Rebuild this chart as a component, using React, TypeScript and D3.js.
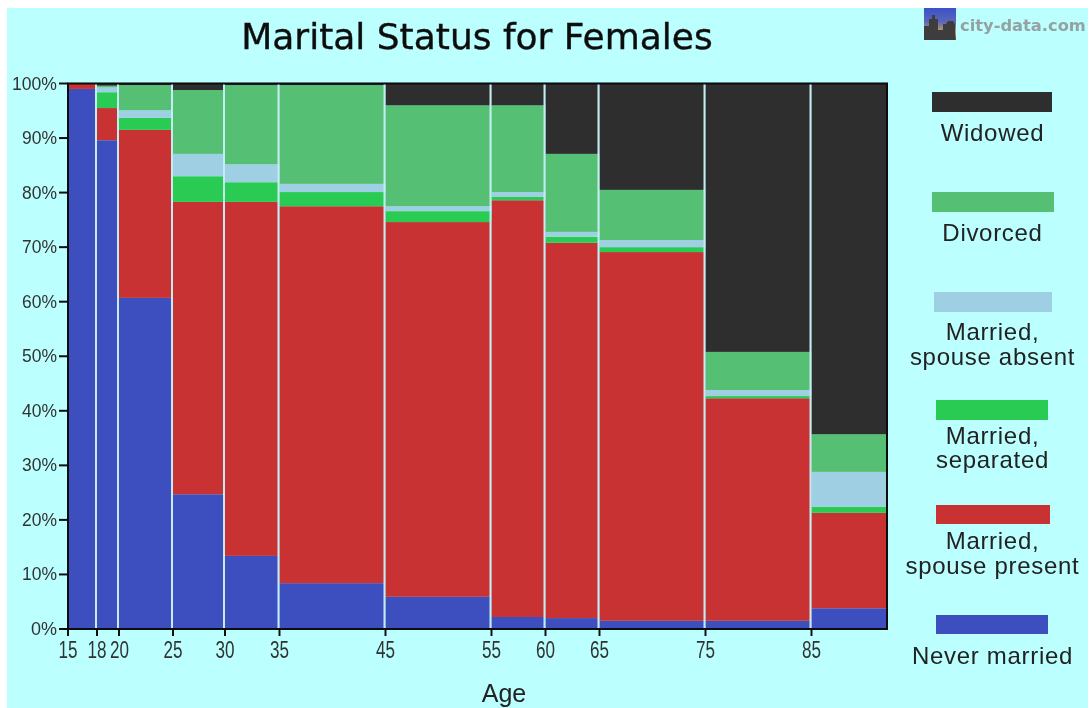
import React from "react";
import * as d3 from "d3";

const ageStarts = [15, 18, 20, 25, 30, 35, 45, 55, 60, 65, 75, 85];
const ageEnd = 92.15;
const yTicks = [0, 10, 20, 30, 40, 50, 60, 70, 80, 90, 100];

const neverMarried = [99, 89.6, 60.7, 24.7, 13.4, 8.4, 5.9, 2.2, 2, 1.5, 1.5, 3.8];
const spousePresent = [1, 5.9, 30.8, 53.6, 64.9, 69.1, 68.7, 76.4, 68.8, 67.6, 40.8, 17.5];
const separated = [0, 2.9, 2.2, 4.7, 3.6, 2.6, 2, 0.6, 1.1, 0.9, 0.4, 1.1];
const spouseAbsent = [0, 0.9, 1.4, 4.1, 3.3, 1.5, 0.9, 0.9, 0.9, 1.3, 1.1, 6.4];
const divorced = [0, 0.3, 4.6, 11.7, 14.5, 18.1, 18.5, 15.9, 14.3, 9.2, 7, 6.9];
const widowed = [0, 0.4, 0.3, 1.2, 0.3, 0.3, 4, 4, 12.9, 19.5, 49.2, 64.3];

const seriesKeys = ["never", "present", "separated", "absent", "divorced", "widowed"];
const seriesValues: Record<string, number[]> = {
  never: neverMarried,
  present: spousePresent,
  separated,
  absent: spouseAbsent,
  divorced,
  widowed,
};
const colors: Record<string, string> = {
  never: "#3d50bf",
  present: "#c83232",
  separated: "#2bcb52",
  absent: "#9fcfe2",
  divorced: "#55bf73",
  widowed: "#2d2d2d",
};

const legendRows = [
  { key: "widowed", x: 932, w: 120, y: 92, h: 20, lines: ["Widowed"], base: [141] },
  { key: "divorced", x: 932, w: 122, y: 192, h: 20, lines: ["Divorced"], base: [241] },
  { key: "absent", x: 934, w: 118, y: 292, h: 20, lines: ["Married,", "spouse absent"], base: [340, 365] },
  { key: "separated", x: 936, w: 112, y: 400, h: 20, lines: ["Married,", "separated"], base: [444, 468] },
  { key: "present", x: 936, w: 114, y: 505, h: 19, lines: ["Married,", "spouse present"], base: [549, 574] },
  { key: "never", x: 936, w: 112, y: 615, h: 19, lines: ["Never married"], base: [664] },
];

const L = 68, R = 887, T = 83.5, B = 629;
const xPixels = [68, 97, 119, 173, 225, 279.5, 385.5, 491.5, 545.5, 599.5, 705.5, 811.5, R];
const x = d3.scaleLinear().domain([...ageStarts, ageEnd]).range(xPixels);
const y = d3.scaleLinear().domain([0, 100]).range([B, T]);

const rows = ageStarts.map((a, i) => {
  const r: Record<string, number> = { age: a, idx: i };
  seriesKeys.forEach((k) => (r[k] = seriesValues[k][i]));
  return r;
});
const stacked = d3.stack<Record<string, number>>().keys(seriesKeys)(rows);

const tickFont = "'Liberation Sans', Arial, sans-serif";
const titleFont = "'DejaVu Sans', sans-serif";

export default function App() {
  const edges = [...ageStarts, ageEnd];
  return (
    <svg
      width={1090}
      height={708}
      style={{ position: "absolute", left: 0, top: 0, display: "block" }}
    >
      <defs>
        <linearGradient id="sky" x1="0" y1="0" x2="0" y2="1">
          <stop offset="0" stopColor="#3d50c8" />
          <stop offset="0.45" stopColor="#5a68b8" />
          <stop offset="0.75" stopColor="#c8a050" />
          <stop offset="1" stopColor="#444" />
        </linearGradient>
        <filter id="soft" x="-5%" y="-5%" width="110%" height="110%">
          <feGaussianBlur stdDeviation="0.45" />
        </filter>
      </defs>
      <rect x={0} y={0} width={1090} height={708} fill="#fff" />
      <rect x={7} y={8} width={1081} height={700} fill="#bbffff" />
      <g filter="url(#soft)">
        <text x={477} y={49} textAnchor="middle" fontFamily={titleFont} fontSize={36} fill="#111" stroke="#111" strokeWidth={0.4}>
          Marital Status for Females
        </text>

        <rect x={924} y={8} width={32} height={32} fill="url(#sky)" />
        <path d="M924 40V26h5v-7h3v-4h3v4h3v11h5v-6h3l2-3h5l2 3v16z" fill="#3c3c3c" />
        <text x={960} y={31} fontFamily={titleFont} fontSize={16.3} fontWeight={700} fill="#96a2a2">
          city-data.com
        </text>

        {stacked.map((s) =>
          s.map((d, i) => (
            <rect
              key={s.key + i}
              x={x(edges[i])}
              width={x(edges[i + 1]) - x(edges[i])}
              y={y(d[1])}
              height={Math.max(0, y(d[0]) - y(d[1]))}
              fill={colors[s.key]}
            />
          ))
        )}
        {ageStarts.slice(1).map((a) => (
          <line key={a} x1={x(a) - 1} x2={x(a) - 1} y1={T} y2={B} stroke="#c4ecf4" strokeWidth={2} />
        ))}
        <rect x={L} y={T} width={R - L} height={B - T} fill="none" stroke="#0a0a0a" strokeWidth={2} />

        {yTicks.map((t) => (
          <g key={t}>
            <line x1={L - 9} x2={L} y1={y(t)} y2={y(t)} stroke="#111" strokeWidth={2} />
            <text
              x={57}
              y={y(t) + 6}
              textAnchor="end"
              fontFamily={tickFont}
              fontSize={18}
              textLength={t === 100 ? 45 : t === 0 ? 26 : 35}
              lengthAdjust="spacingAndGlyphs"
              fill="#333"
            >
              {t}%
            </text>
          </g>
        ))}
        {ageStarts.map((a) => (
          <g key={a}>
            <line x1={x(a)} x2={x(a)} y1={B} y2={B + 7} stroke="#111" strokeWidth={2} />
            <text
              x={x(a) + (a === 20 ? 0.5 : 0)}
              y={B + 29}
              textAnchor="middle"
              fontFamily={tickFont}
              fontSize={24}
              textLength={19}
              lengthAdjust="spacingAndGlyphs"
              fill="#333"
            >
              {a}
            </text>
          </g>
        ))}
        <text x={504} y={702} textAnchor="middle" fontFamily={tickFont} fontSize={25} fill="#222">
          Age
        </text>

        {legendRows.map((r) => (
          <g key={r.key}>
            <rect x={r.x} y={r.y} width={r.w} height={r.h} fill={colors[r.key]} />
            {r.lines.map((line, j) => (
              <text
                key={line}
                x={992.5}
                y={r.base[j]}
                textAnchor="middle"
                fontFamily={tickFont}
                fontSize={24}
                letterSpacing={0.7}
                fill="#222"
              >
                {line}
              </text>
            ))}
          </g>
        ))}
      </g>
    </svg>
  );
}
